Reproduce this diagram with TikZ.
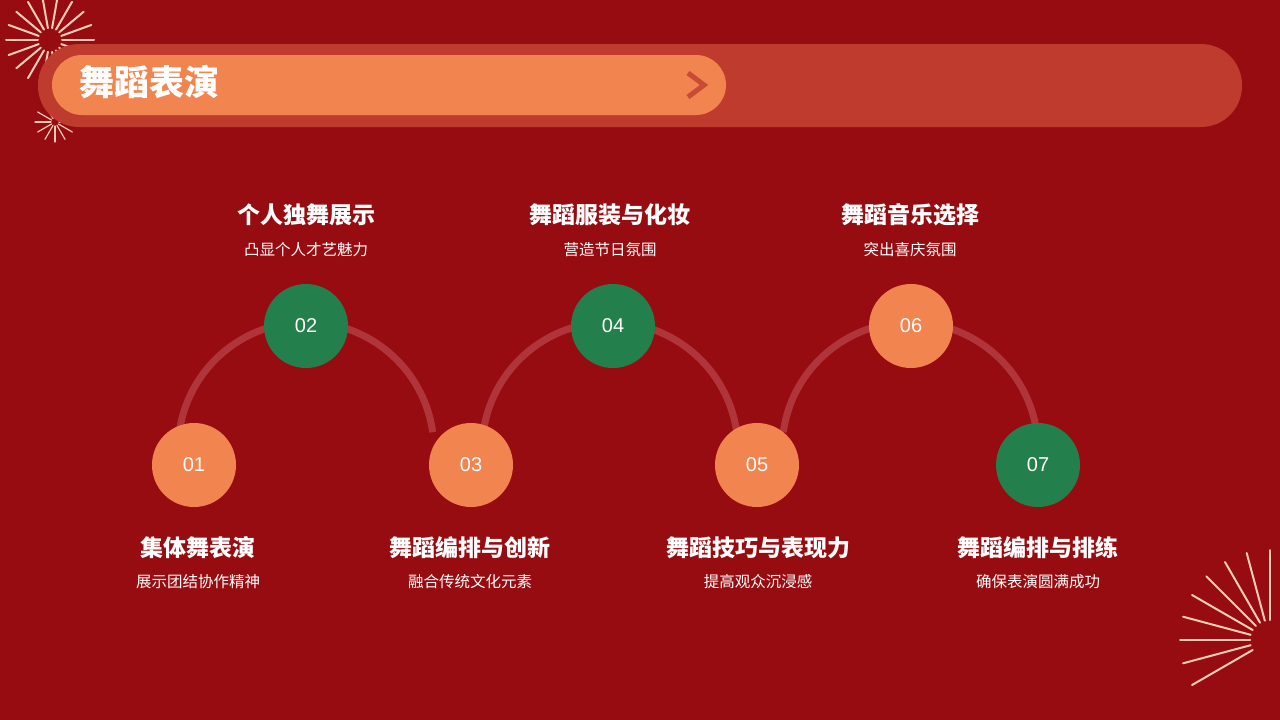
\documentclass[tikz,border=0pt]{standalone}
\usepackage{fontspec}
\newfontfamily\cjk{Noto Sans CJK SC}
\setmainfont{Liberation Sans}
\definecolor{bgred}{HTML}{970C10}
\definecolor{barred}{HTML}{BF3B2E}
\definecolor{orng}{HTML}{F2844F}
\definecolor{dgreen}{HTML}{237F4B}
\definecolor{arcred}{HTML}{B0353A}
\definecolor{spark}{HTML}{F8CDB8}
\tikzset{
  dot/.style={circle, minimum size=84pt, inner sep=0pt, text=white, font=\fontsize{20}{20}\selectfont},
  head/.style={text=white, font=\cjk\bfseries\fontsize{23}{23}\selectfont},
  sub/.style={text=white, font=\cjk\fontsize{15.5}{15.5}\selectfont},
  arcline/.style={draw=arcred, line width=7pt},
  firework/.style={draw=spark, line width=2pt, line cap=round}
}
\begin{document}
\begin{tikzpicture}[x=1pt,y=-1pt]
\fill[bgred] (0,0) rectangle (1280,720);
\useasboundingbox (0,0) rectangle (1280,720);

% fireworks
\foreach \a in {0,20,...,340}
  \draw[firework] (50,40) ++(\a:12) -- ++(\a:32);
\foreach \a in {0,30,...,330}
  \draw[firework,line width=1.2pt] (55,122) ++(\a:4) -- ++(\a:16);
\foreach \a in {150,165,...,270}
  \draw[firework] (1270,640) ++(\a:20) -- ++(\a:70);

% header
\fill[barred, rounded corners=41pt] (38,44) rectangle (1242,127);
\fill[orng, rounded corners=30pt] (52,55) rectangle (726,115);
\draw[barred!80!orng, line width=5pt] (688,73) -- (704,85) -- (688,97);
\node[head, anchor=west, font=\cjk\bfseries\fontsize{35}{35}\selectfont] (title) at (76,82) {舞蹈表演};

% arcs
\draw[arcline] (306,450) ++(-172:128) arc[start angle=-172, end angle=-8, radius=128];
\draw[arcline] (610,450) ++(-172:128) arc[start angle=-172, end angle=-8, radius=128];
\draw[arcline] (910,450) ++(-172:128) arc[start angle=-172, end angle=-8, radius=128];

% steps
\node[dot, fill=orng] (s1) at (194,465) {01};
\node[dot, fill=dgreen] (s2) at (306,326) {02};
\node[dot, fill=orng] (s3) at (471,465) {03};
\node[dot, fill=dgreen] (s4) at (613,326) {04};
\node[dot, fill=orng] (s5) at (757,465) {05};
\node[dot, fill=orng] (s6) at (911,326) {06};
\node[dot, fill=dgreen] (s7) at (1038,465) {07};

\node[head] (h1) at (198,548) {集体舞表演};
\node[sub] (t1) at (198,582) {展示团结协作精神};
\node[head] (h2) at (306,215) {个人独舞展示};
\node[sub] (t2) at (306,250) {凸显个人才艺魅力};
\node[head] (h3) at (470,548) {舞蹈编排与创新};
\node[sub] (t3) at (470,582) {融合传统文化元素};
\node[head] (h4) at (610,215) {舞蹈服装与化妆};
\node[sub] (t4) at (610,250) {营造节日氛围};
\node[head] (h5) at (758,548) {舞蹈技巧与表现力};
\node[sub] (t5) at (758,582) {提高观众沉浸感};
\node[head] (h6) at (910,215) {舞蹈音乐选择};
\node[sub] (t6) at (910,250) {突出喜庆氛围};
\node[head] (h7) at (1038,548) {舞蹈编排与排练};
\node[sub] (t7) at (1038,582) {确保表演圆满成功};
\end{tikzpicture}
\end{document}
